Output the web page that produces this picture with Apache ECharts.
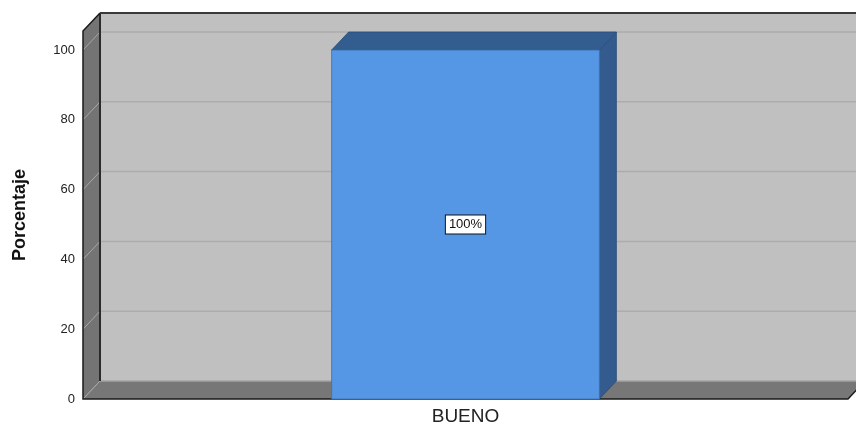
<!DOCTYPE html>
<html>
<head>
<meta charset="utf-8">
<script src="https://cdn.jsdelivr.net/npm/echarts@6/dist/echarts.min.js"></script>
<style>
  html, body { margin: 0; padding: 0; background: #fff; }
  #chart { width: 856px; height: 426px; }
</style>
</head>
<body>
<div id="chart"></div>
<script>
// datos
const categorias = ["BUENO"];
const porcentajes = [100];
const lineasGuia = [20, 40, 60, 80, 100];

// profundidad del efecto 3D (px)
const DX = 17;
const DY = 18;
const EXTRA = 19; // pared sobre el valor 100

var myChart = echarts.init(document.getElementById("chart"));

function renderMarco(params, api) {
  var cs = params.coordSys;
  var gx = cs.x, gy = cs.y, gw = cs.width, gh = cs.height;
  var base = gy + gh;
  var topF = gy - EXTRA;
  var children = [];
  // pared del fondo
  children.push({
    type: "rect",
    shape: { x: gx + DX, y: topF - DY, width: gw + 40, height: base - topF },
    style: { fill: "#c0c0c0" }
  });
  // pared izquierda
  children.push({
    type: "polygon",
    shape: { points: [[gx, base], [gx, topF], [gx + DX, topF - DY], [gx + DX, base - DY]] },
    style: { fill: "#747474" }
  });
  // suelo
  children.push({
    type: "polygon",
    shape: { points: [[gx, base], [gx + DX, base - DY], [gx + gw + DX, base - DY], [gx + gw, base]] },
    style: { fill: "#777777" }
  });
  // lineas guia
  lineasGuia.forEach(function (v) {
    var y = api.coord([0, v])[1];
    children.push({
      type: "line",
      shape: { x1: gx + DX, y1: y - DY, x2: gx + gw + 40, y2: y - DY },
      style: { stroke: "#acacac", lineWidth: 1.5 }
    });
    children.push({
      type: "line",
      shape: { x1: gx, y1: y, x2: gx + DX, y2: y - DY },
      style: { stroke: "#a8a8a8", lineWidth: 1 }
    });
  });
  // arista suelo-fondo
  children.push({
    type: "line",
    shape: { x1: gx + DX, y1: base - DY, x2: gx + gw + 40, y2: base - DY },
    style: { stroke: "#a4a4a4", lineWidth: 1.5 }
  });
  children.push({
    type: "line",
    shape: { x1: gx, y1: base, x2: gx + DX, y2: base - DY },
    style: { stroke: "#a8a8a8", lineWidth: 1 }
  });
  // bordes oscuros
  children.push({
    type: "line",
    shape: { x1: gx + DX, y1: topF - DY, x2: gx + DX, y2: base - DY },
    style: { stroke: "#2a2a2a", lineWidth: 2 }
  });
  children.push({
    type: "line",
    shape: { x1: gx + DX, y1: topF - DY, x2: gx + gw + 40, y2: topF - DY },
    style: { stroke: "#3a3a3a", lineWidth: 2 }
  });
  children.push({
    type: "polyline",
    shape: { points: [[gx + DX, topF - DY], [gx, topF], [gx, base], [gx + gw, base], [gx + gw + DX, base - DY]] },
    style: { stroke: "#1a1a1a", lineWidth: 1.5, fill: null }
  });
  return { type: "group", children: children };
}

function renderBarra(params, api) {
  var p0 = api.coord([api.value(0), 0]);
  var p1 = api.coord([api.value(0), api.value(1)]);
  var w = api.size([1, 0])[0] * 0.35;
  var x0 = p0[0] - w / 2, x1 = p0[0] + w / 2;
  var yT = p1[1], yB = p0[1];
  return {
    type: "group",
    children: [
      {
        type: "polygon",
        shape: { points: [[x1, yB], [x1, yT], [x1 + DX, yT - DY], [x1 + DX, yB - DY]] },
        style: { fill: "#335b8d", stroke: "#2b4d78", lineWidth: 0.8 }
      },
      {
        type: "polygon",
        shape: { points: [[x0, yT], [x0 + DX, yT - DY], [x1 + DX, yT - DY], [x1, yT]] },
        style: { fill: "#335c8f", stroke: "#2b4d78", lineWidth: 0.8 }
      },
      {
        type: "rect",
        shape: { x: x0, y: yT, width: w, height: yB - yT },
        style: { fill: "#5596e5", stroke: "#3d6faa", lineWidth: 0.8 }
      },
      {
        type: "text",
        x: p0[0],
        y: (yT + yB) / 2,
        style: {
          text: porcentajes[params.dataIndex] + "%",
          fill: "#111",
          font: "13px 'Liberation Sans', Arial, sans-serif",
          align: "center",
          verticalAlign: "middle",
          backgroundColor: "#fff",
          borderColor: "#111",
          borderWidth: 1,
          padding: [3, 3, 2, 3]
        }
      }
    ]
  };
}

myChart.setOption({
  animation: false,
  grid: { left: 83, right: 8, top: 50, bottom: 27 },
  xAxis: {
    type: "category",
    data: categorias,
    axisLine: { show: false },
    axisTick: { show: false },
    axisLabel: { color: "#222", fontSize: 19, margin: 8, fontFamily: "Liberation Sans" }
  },
  yAxis: {
    type: "value",
    min: 0,
    max: 100,
    interval: 20,
    name: "Porcentaje",
    nameLocation: "middle",
    nameGap: 54,
    nameTextStyle: { color: "#111", fontSize: 18, fontWeight: "bold", fontFamily: "Liberation Sans", padding: [0, 0, 0, 19] },
    axisLine: { show: false },
    axisTick: { show: false },
    splitLine: { show: false },
    axisLabel: { color: "#222", fontSize: 13, margin: 8, fontFamily: "Liberation Sans", padding: [3, 0, 0, 0] }
  },
  series: [
    {
      type: "custom",
      renderItem: renderMarco,
      data: [[0, 0]],
      clip: false,
      silent: true,
      z: 1
    },
    {
      type: "custom",
      renderItem: renderBarra,
      data: categorias.map(function (c, i) { return [i, porcentajes[i]]; }),
      encode: { x: 0, y: 1 },
      clip: false,
      z: 2
    }
  ]
});
</script>
</body>
</html>
